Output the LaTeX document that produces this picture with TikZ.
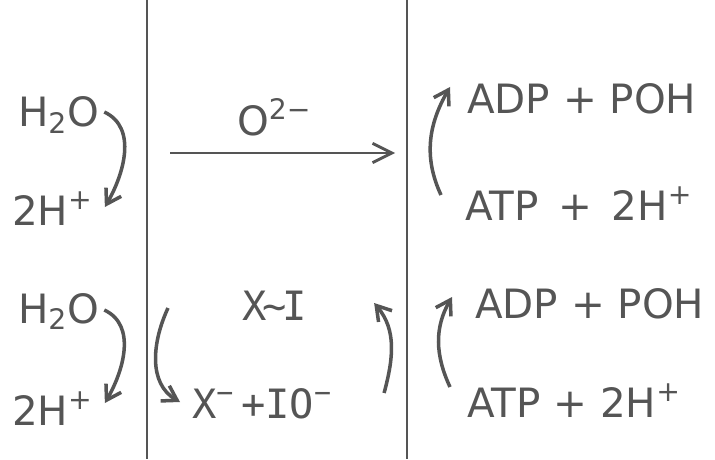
\documentclass[tikz,border=0pt]{standalone}
\usepackage{fontspec}
\setmainfont{DejaVu Sans}
\newfontfamily\monofont{DejaVu Sans Mono}
\usetikzlibrary{arrows.meta}
\definecolor{ink}{RGB}{85,85,85}

\begin{document}
\begin{tikzpicture}[x=0.02cm, y=-0.02cm, ink,
    txt/.style={anchor=base west, inner sep=1pt, text=ink,
                font=\fontsize{23}{28}\selectfont},
    mono/.style={txt, font=\fontsize{23}{28}\selectfont\monofont},
    curv/.style={line width=2pt, -{Straight Barb[length=8pt,width=10pt]}},
    flow/.style={line width=1.6pt, -{Straight Barb[length=11pt,width=11pt]}}]

    \useasboundingbox (0,0) rectangle (715,459);

    % Membranes
    \coordinate (m1t) at (147,0);   \coordinate (m1b) at (147,459);
    \coordinate (m2t) at (407,0);   \coordinate (m2b) at (407,459);
    \draw[line width=1.6pt] (m1t) -- (m1b);
    \draw[line width=1.6pt] (m2t) -- (m2b);

    % Left side
    \node[txt] (h2oA) at (16,127) {H\textsubscript{2}O};
    \node[txt] (hpA)  at (10,225) {2H\textsuperscript{+}};
    \node[txt] (h2oB) at (16,323) {H\textsubscript{2}O};
    \node[txt] (hpB)  at (10,425) {2H\textsuperscript{+}};

    \draw[curv] ([shift={(3,-15)}]h2oA.base east) to[out=-25,in=60] ([shift={(10,-18)}]hpA.base east);
    \draw[curv] ([shift={(3,-13)}]h2oB.base east) to[out=-25,in=60] ([shift={(10,-22)}]hpB.base east);

    % Middle
    \node[txt]  (oxy) at (235,135) {O\textsuperscript{2−}};
    \node[mono] (xi)  at (240,320) {X\kern-0.1em\textasciitilde\kern-0.1em I};
    \node[mono] (xio) at (190,418) {X\textsuperscript{−}\,+IO\textsuperscript{−}};

    \draw[flow] ([shift={(-65,18)}]oxy.base west) -- ([shift={(160,18)}]oxy.base west);
    \draw[curv] ([shift={(-72,-12)}]xi.base west) to[out=-115,in=150] ([shift={(-10,-16)}]xio.base west);
    \draw[curv] ([shift={(50,-25)}]xio.base east) to[out=75,in=-50] ([shift={(65,-17)}]xi.base east);

    % Right side
    \node[txt] (adpA) at (465,113) {ADP + POH};
    \node[txt] (atpA) at (463,220) {ATP \,+\, 2H\textsuperscript{+}};
    \node[txt] (adpB) at (473,318) {ADP + POH};
    \node[txt] (atpB) at (465,417) {ATP + 2H\textsuperscript{+}};

    \draw[curv] ([shift={(-22,-25)}]atpA.base west) to[out=115,in=-120] ([shift={(-15,-26)}]adpA.base west);
    \draw[curv] ([shift={(-15,-30)}]atpB.base west) to[out=115,in=-120] ([shift={(-21,-21)}]adpB.base west);

\end{tikzpicture}
\end{document}
